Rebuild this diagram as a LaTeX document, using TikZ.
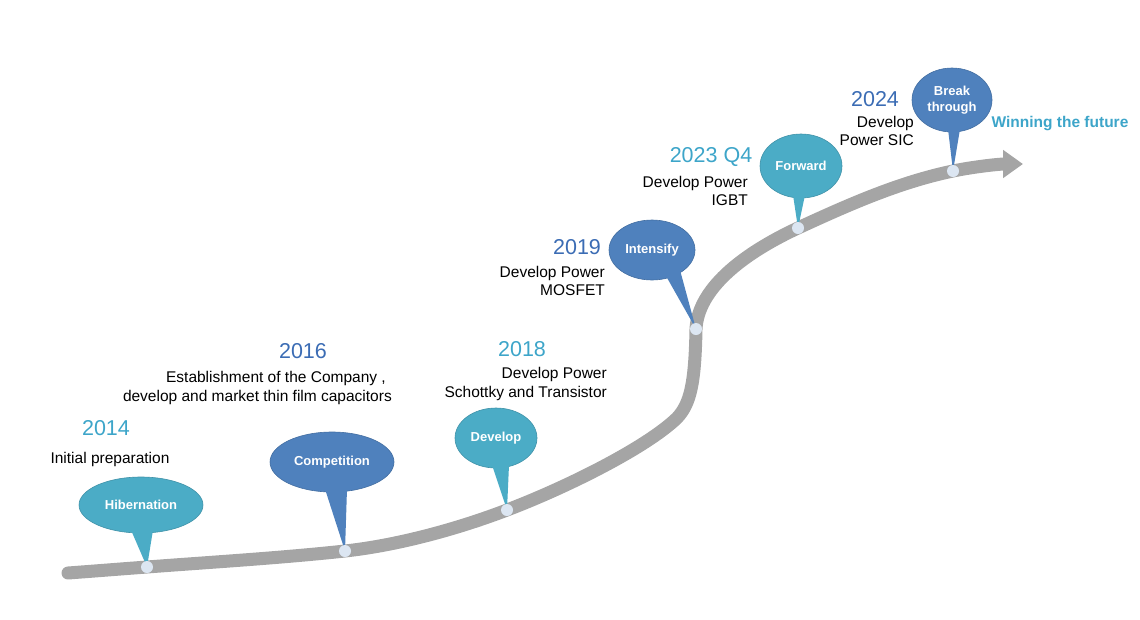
\documentclass[tikz,border=0pt]{standalone}
\usepackage{fontspec}
\setmainfont{Liberation Sans}
\usetikzlibrary{arrows.meta,shapes.geometric,calc}

\definecolor{cteal}{HTML}{4BACC6}
\definecolor{cblue}{HTML}{4F81BD}
\definecolor{cgray}{HTML}{A5A5A5}
\definecolor{cdot}{HTML}{DCE6F2}
\definecolor{yteal}{HTML}{3DA5C9}
\definecolor{yblue}{HTML}{3B6CB4}

\begin{document}
\begin{tikzpicture}[x=1pt, y=-1pt, >=Stealth,
    year/.style={font=\fontsize{21.5}{24}\selectfont, inner sep=0pt},
    desc/.style={font=\fontsize{15.5}{18.5}\selectfont, inner sep=0pt, align=right},
    bubble/.style={ellipse, inner sep=0pt, line width=0.6pt, text=white, align=center,
        font=\bfseries\fontsize{13}{16}\selectfont},
    tealbub/.style={bubble, fill=cteal, draw=cteal!85!black},
    bluebub/.style={bubble, fill=cblue, draw=cblue!85!black},
    dot/.style={circle, fill=cdot, inner sep=0pt, minimum size=12pt}]
    \useasboundingbox (0,0) rectangle (1140,619);

    % Milestones on the curve
    \coordinate (d1) at (147,567);
    \coordinate (d2) at (345,551);
    \coordinate (d3) at (507,510);
    \coordinate (d4) at (696,329);
    \coordinate (d5) at (798,228);
    \coordinate (d6) at (953,171);

    % Growth curve
    \draw[line width=13pt, cgray, line cap=round, -{Triangle[length=20pt,width=27pt]}]
        (68,573) .. controls (95,571) and (120,569) .. (d1)
        .. controls (213,562) and (280,558) .. (d2)
        .. controls (400,545) and (460,528) .. (d3)
        .. controls (565,488) and (646,448) .. (677,418)
        .. controls (690,404) and (695,385) .. (d4)
        .. controls (698,290) and (740,255) .. (d5)
        .. controls (850,204) and (900,182) .. (d6)
        .. controls (975,166.5) and (1000,164) .. (1023,164);

    % Bubbles
    \node[tealbub, minimum width=124pt, minimum height=56pt] (b1) at (141,505) {Hibernation};
    \node[bluebub, minimum width=124pt, minimum height=60pt] (b2) at (332,462) {Competition};
    \node[tealbub, minimum width=82pt, minimum height=60pt] (b3) at (496,438) {Develop};
    \node[bluebub, minimum width=86pt, minimum height=60pt] (b4) at (652,250) {Intensify};
    \node[tealbub, minimum width=82pt, minimum height=64pt] (b5) at (801,166) {Forward};
    \node[bluebub, minimum width=80pt, minimum height=64pt] (b6) at (952,100) {Break\\through};

    % Pointers
    \foreach \b/\d/\ax/\ay/\bx/\by/\c in {b1/d1/-10/25/12/25/cteal, b2/d2/-7/27/15/27/cblue,
        b3/d3/-4/27/13/27/cteal, b4/d4/14/26/28/20/cblue, b5/d5/-8/29/4/29/cteal,
        b6/d6/-4/29/8/29/cblue}
        \fill[\c] ($(\b.center)+(\ax,\ay)$) -- ($(\b.center)+(\bx,\by)$) -- (\d) -- cycle;

    \foreach \d in {d1,d2,d3,d4,d5,d6}
        \node[dot] at (\d) {};

    % Years and texts
    \node[year, yteal] (y1) at (106,428) {2014};
    \node[desc] (t1) at (110,459) {Initial preparation};
    \node[year, yblue] (y2) at (303,351) {2016};
    \node[desc, anchor=east] (t2) at (392,388) {Establishment of the Company ,\kern6pt\\develop and market thin film capacitors};
    \node[year, yteal] (y3) at (522,349) {2018};
    \node[desc, anchor=east] (t3) at (607,384) {Develop Power\\Schottky and Transistor};
    \node[year, yblue] (y4) at (577,247) {2019};
    \node[desc, anchor=east] (t4) at (605,281) {Develop Power\\MOSFET};
    \node[year, yteal] (y5) at (711,157) {2023 Q4};
    \node[desc, anchor=east] (t5) at (748,191) {Develop Power\\IGBT};
    \node[year, yblue] (y6) at (875,99) {2024};
    \node[desc, anchor=east] (t6) at (914,131) {Develop\\Power SIC};
    \node[inner sep=0pt, yteal, font=\bfseries\fontsize{15.5}{18}\selectfont] (win) at (1060,124) {Winning the future};
\end{tikzpicture}
\end{document}
